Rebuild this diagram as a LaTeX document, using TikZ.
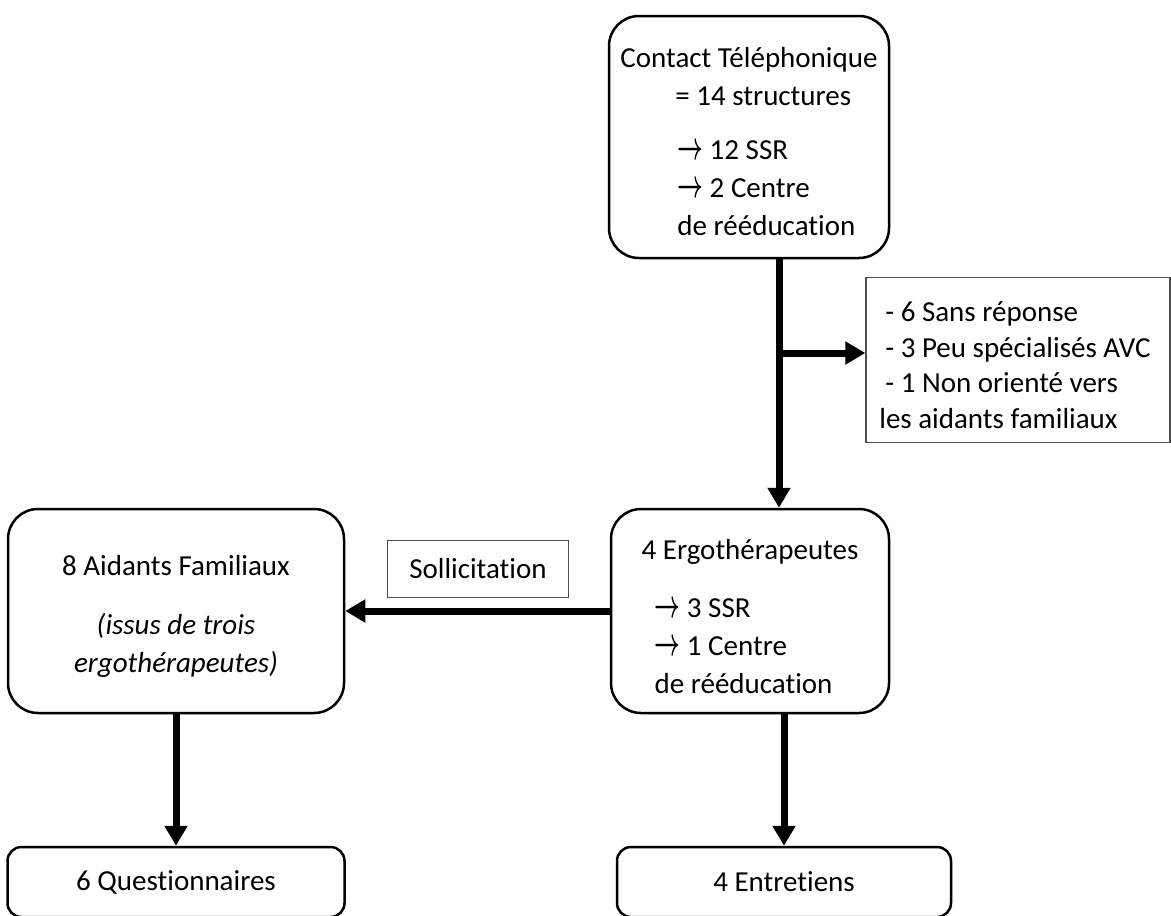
\documentclass[tikz,border=0pt]{standalone}
\usepackage{amsmath}
\usepackage{fontspec}
\setmainfont{Carlito}[Ligatures=NoCommon]
\usetikzlibrary{arrows.meta}
\newcommand{\flowarrow}{\scalebox{0.9}[1.6]{$\boldsymbol{\rightarrow}$}}
\newcommand{\dropline}[1]{\rule{0pt}{#1}}

\begin{document}
\begin{tikzpicture}[
			     x=1pt, y=-1pt,
			     every node/.style={font=\fontsize{29}{38}\selectfont},
			     stepbox/.style={draw, line width=2.5pt, rounded corners=30pt, inner sep=0pt},
			     endbox/.style={draw, line width=2.5pt, rounded corners=14pt, inner sep=0pt},
			     notebox/.style={draw=black!70, line width=1.3pt, inner sep=0pt},
			     flow/.style={line width=7pt, -{Triangle[length=20pt,width=22pt]}}
			     ]
\useasboundingbox (0,0) rectangle (1171,916);
% boxes
\node[stepbox, minimum width=280pt, minimum height=242pt, align=left] (contact) at (749,137) {%
\dropline{29pt}Contact Téléphonique\\
\hspace*{55pt}= 14 structures\\[16pt]
\hspace*{57pt}\flowarrow\ 12 SSR\\
\hspace*{57pt}\flowarrow\ 2 Centre\\
\hspace*{57pt}de rééducation};
\node[notebox, minimum width=304pt, minimum height=165pt, align=left, font=\fontsize{29}{35.5}\selectfont] (refus) at (1018,360) {%
\dropline{30pt}- 6 Sans réponse\\
- 3 Peu spécialisés AVC\\
- 1 Non orienté vers\\
\hspace*{-6pt}les aidants familiaux};
\node[stepbox, minimum width=278pt, minimum height=204pt, align=left] (ergo) at (750,611) {%
\dropline{31pt}4 Ergothérapeutes\\[20pt]
\hspace*{13pt}\flowarrow\ 3 SSR\\
\hspace*{13pt}\flowarrow\ 1 Centre\\
\hspace*{13pt}de rééducation};
\node[stepbox, minimum width=336pt, minimum height=204pt, align=center] (aidants) at (176,611) {%
\dropline{31pt}8 Aidants Familiaux\\[21pt]
\textit{(issus de trois}\\
\textit{ergothérapeutes)}};
\node[notebox, minimum width=181pt, minimum height=57pt] (sollic) at (478,569) {Sollicitation};
\node[endbox, minimum width=337pt, minimum height=70pt] (quest) at (176,882) {6 Questionnaires};
\node[endbox, minimum width=334pt, minimum height=70pt] (entre) at (784,882) {4 Entretiens};
% arrows
\coordinate (spine) at (779,0);
\coordinate (branch) at (779,353);
\draw[flow] (contact.south -| spine) -- (ergo.north -| spine);
\draw[flow] (branch) -- (branch -| refus.west);
\draw[flow] (ergo.west) -- (aidants.east);
\draw[flow] (aidants.south) -- (quest.north);
\draw[flow] (ergo.south -| entre.north) -- (entre.north);
\end{tikzpicture}
\end{document}
